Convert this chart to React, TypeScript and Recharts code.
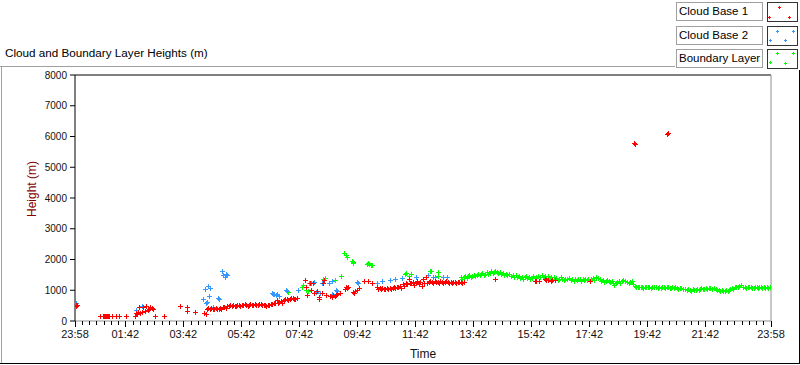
import React from "react";
import { ScatterChart, Scatter, XAxis, YAxis, ReferenceLine } from "recharts";

const FONT = '"Liberation Sans", Arial, sans-serif';

const RED = "#ff0000";
const BLUE = "#3399ff";
const GREEN = "#00ff00";

// [hours after 23:58, height in m]
const cloudBase1: [number, number][] = [
  [0.02, 500], [0.04, 530], [0.06, 510],
  [0.86, 150], [0.95, 150], [1.0, 150], [1.03, 150], [1.07, 150], [1.1, 150], [1.14, 150], [1.18, 150], [1.27, 150],
  [1.43, 150], [1.5, 150], [1.75, 150],
  [2.07, 150], [2.1, 270], [2.13, 220], [2.17, 300], [2.2, 440], [2.25, 250], [2.3, 280], [2.35, 460], [2.4, 330], [2.45, 480],
  [2.5, 350], [2.55, 380], [2.6, 470], [2.65, 420], [2.68, 380], [2.75, 150],
  [3.08, 150], [3.62, 480], [3.85, 445], [3.87, 320], [4.14, 290], [4.45, 250], [4.5, 220],
  [4.55, 390], [4.6, 410], [4.65, 380], [4.7, 420], [4.75, 400], [4.8, 390], [4.85, 430], [4.9, 400], [4.95, 380], [5.0, 420],
  [5.05, 400], [5.1, 440], [5.15, 460], [5.2, 430], [5.25, 480], [5.3, 500], [5.35, 520], [5.4, 490], [5.45, 510], [5.5, 480],
  [5.55, 500], [5.6, 510], [5.65, 520], [5.7, 500], [5.75, 530], [5.8, 510], [5.85, 540], [5.9, 520], [5.95, 500], [6.0, 530],
  [6.05, 540], [6.1, 510], [6.15, 520], [6.2, 540], [6.25, 510], [6.3, 520], [6.35, 540], [6.4, 550], [6.45, 530], [6.5, 520],
  [6.55, 510], [6.6, 500], [6.65, 530], [6.7, 520], [6.75, 560], [6.8, 550], [6.85, 570], [6.9, 600], [6.95, 680], [7.0, 580],
  [7.05, 620], [7.1, 650], [7.15, 600], [7.2, 680], [7.25, 720], [7.3, 700], [7.35, 690], [7.4, 720], [7.45, 750],
  [7.5, 740], [7.55, 710], [7.6, 720], [7.65, 760],
  [7.93, 1330], [7.97, 1100], [8.01, 835], [8.1, 1225], [8.15, 1000], [8.2, 1250], [8.25, 900], [8.33, 990], [8.4, 770],
  [8.43, 730], [8.5, 900], [8.55, 1230], [8.6, 1320], [8.65, 850], [8.79, 810], [8.85, 780], [8.9, 830], [8.95, 800],
  [9.0, 860], [9.05, 880], [9.15, 900], [9.3, 1030], [9.33, 1100], [9.37, 1060], [9.42, 1100], [9.6, 950], [9.63, 900],
  [9.66, 965], [9.72, 1020], [9.78, 1080], [9.95, 1290], [10.12, 1290], [10.25, 1230],
  [10.4, 1100], [10.45, 1050], [10.5, 1070], [10.55, 1040], [10.6, 1060], [10.65, 1030], [10.7, 1050], [10.75, 1060],
  [10.8, 1040], [10.85, 1080], [10.9, 1050], [10.95, 1070], [11.0, 1100], [11.05, 1080], [11.1, 1110], [11.15, 1090],
  [11.2, 1130], [11.25, 1060],
  [11.3, 1200], [11.35, 1150], [11.4, 1240], [11.45, 1210], [11.5, 1380], [11.55, 1250], [11.6, 1220], [11.65, 1270],
  [11.7, 1170], [11.75, 1250], [11.8, 1300], [11.85, 1200], [11.9, 1260], [11.95, 1130], [12.0, 1360], [12.05, 1230],
  [12.1, 1440], [12.15, 1250],
  [12.2, 1270], [12.25, 1300], [12.3, 1270], [12.35, 1250], [12.4, 1290], [12.45, 1280], [12.5, 1260], [12.55, 1240],
  [12.6, 1300], [12.65, 1270], [12.7, 1250], [12.75, 1280], [12.8, 1290], [12.85, 1260], [12.9, 1240], [12.95, 1270],
  [13.0, 1250], [13.05, 1280], [13.1, 1260], [13.15, 1250], [13.2, 1270], [13.25, 1280], [13.3, 1260], [13.35, 1250],
  [13.4, 1280],
  [14.48, 1350], [15.86, 1310], [15.9, 1300], [16.0, 1290], [16.2, 1350], [16.25, 1330], [16.3, 1330], [16.4, 1310],
  [16.45, 1320], [16.55, 1340], [17.76, 1290],
  [19.28, 5780], [19.3, 5770], [20.42, 6080], [20.45, 6130],
];

const cloudBase2: [number, number][] = [
  [0.03, 600], [2.1, 360], [2.3, 500], [2.33, 470],
  [4.42, 700], [4.48, 1040], [4.52, 600], [4.55, 620], [4.6, 1150], [4.63, 800], [4.67, 1070], [4.75, 440], [4.94, 760],
  [4.97, 710], [5.06, 1640], [5.12, 1500], [5.17, 1440], [5.22, 1530], [5.25, 1510],
  [6.78, 900], [6.82, 880], [6.87, 890], [6.92, 850], [6.95, 880], [7.02, 810], [7.28, 1010], [7.3, 980], [7.7, 1000],
  [8.13, 1225], [8.25, 1260], [8.3, 950], [8.45, 900], [8.53, 1225], [8.76, 1225], [8.87, 1310], [8.87, 890],
  [9.0, 1000], [9.05, 970], [9.71, 1260], [9.75, 1230], [10.4, 1225], [10.57, 1290], [10.86, 1330], [11.03, 1380],
  [11.26, 1410], [11.77, 1420], [12.18, 1480], [12.36, 1420], [12.4, 1440], [12.7, 1440], [12.82, 1440], [13.22, 1280],
];

const boundaryLayer: [number, number][] = [
  [7.36, 930], [7.82, 1120], [7.87, 1160], [7.98, 1020], [8.03, 990], [8.08, 1240], [8.56, 1360], [8.61, 1400],
  [8.98, 1320], [9.16, 1460],
  [9.29, 2200], [9.33, 2150], [9.37, 2090], [9.54, 1960], [9.57, 1930], [9.6, 1900], [10.06, 1840], [10.1, 1870],
  [10.15, 1850], [10.2, 1830], [10.25, 1810],
  [11.38, 1520], [11.42, 1560], [11.5, 1470], [11.57, 1540], [12.24, 1640], [12.27, 1610], [12.5, 1600], [12.53, 1470],
  [13.3, 1430], [13.35, 1380], [13.4, 1420], [13.45, 1460], [13.5, 1400], [13.55, 1450], [13.6, 1490], [13.65, 1430],
  [13.7, 1470], [13.75, 1510], [13.8, 1460], [13.85, 1500], [13.9, 1540], [13.95, 1480], [14.0, 1520],
  [14.05, 1560], [14.1, 1500], [14.15, 1540], [14.2, 1590], [14.25, 1530], [14.3, 1570], [14.35, 1610], [14.4, 1550],
  [14.45, 1600], [14.5, 1640], [14.55, 1580], [14.6, 1560], [14.65, 1600], [14.7, 1530], [14.75, 1560], [14.8, 1500],
  [14.85, 1540], [14.9, 1480], [14.95, 1520],
  [15.05, 1470], [15.1, 1500], [15.15, 1440], [15.2, 1480], [15.25, 1420], [15.3, 1460], [15.35, 1400], [15.4, 1440],
  [15.45, 1380], [15.5, 1420], [15.55, 1460], [15.6, 1400], [15.65, 1440], [15.7, 1370], [15.75, 1410], [15.8, 1450],
  [15.85, 1390], [15.9, 1430], [15.95, 1470],
  [16.05, 1420], [16.1, 1500], [16.15, 1440], [16.2, 1470], [16.25, 1410], [16.3, 1450], [16.35, 1390], [16.4, 1430],
  [16.45, 1380], [16.5, 1420], [16.55, 1360], [16.6, 1400], [16.65, 1340], [16.7, 1380], [16.75, 1420], [16.8, 1360],
  [16.85, 1330], [16.9, 1370], [16.95, 1350],
  [17.05, 1390], [17.1, 1340], [17.15, 1370], [17.2, 1310], [17.25, 1360], [17.3, 1330], [17.35, 1380], [17.4, 1350],
  [17.45, 1310], [17.5, 1370], [17.55, 1340], [17.6, 1380], [17.65, 1320], [17.7, 1360], [17.75, 1300], [17.8, 1350],
  [17.85, 1390], [17.9, 1330], [17.95, 1440],
  [18.05, 1400], [18.1, 1350], [18.15, 1300], [18.2, 1330], [18.25, 1280], [18.3, 1310], [18.35, 1340], [18.4, 1290],
  [18.45, 1260], [18.5, 1300], [18.55, 1240], [18.6, 1180], [18.65, 1220], [18.7, 1270], [18.75, 1300], [18.8, 1250],
  [18.85, 1290], [18.9, 1330], [18.95, 1310],
  [19.05, 1280], [19.1, 1240], [19.15, 1270], [19.2, 1300], [19.25, 1200], [19.3, 1150], [19.35, 1120], [19.4, 1100],
  [19.45, 1120], [19.5, 1090], [19.55, 1110], [19.6, 1080], [19.65, 1100], [19.7, 1120], [19.75, 1090], [19.8, 1110],
  [19.85, 1080], [19.9, 1100], [19.95, 1090],
  [20.05, 1110], [20.1, 1080], [20.15, 1100], [20.2, 1070], [20.25, 1100], [20.3, 1090], [20.35, 1060], [20.4, 1090],
  [20.45, 1110], [20.5, 1080], [20.55, 1070], [20.6, 1100], [20.65, 1060], [20.7, 1090], [20.75, 1070], [20.8, 1050],
  [20.85, 1080], [20.9, 1060], [20.95, 1040],
  [21.05, 1030], [21.1, 1000], [21.15, 1040], [21.2, 1010], [21.25, 990], [21.3, 1030], [21.35, 1000], [21.4, 1020],
  [21.45, 1050], [21.5, 1010], [21.55, 1040], [21.6, 1060], [21.65, 1030], [21.7, 1050], [21.75, 1070], [21.8, 1040],
  [21.85, 1060], [21.9, 1080], [21.95, 1050],
  [22.05, 1070], [22.1, 1040], [22.15, 1010], [22.2, 1000], [22.25, 980], [22.3, 1000], [22.35, 970], [22.4, 990],
  [22.45, 1010], [22.5, 980], [22.55, 1000], [22.6, 1030], [22.65, 1060], [22.7, 1040], [22.75, 1090], [22.8, 1120],
  [22.85, 1100], [22.9, 1140], [22.95, 1160],
  [23.05, 1120], [23.1, 1100], [23.15, 1080], [23.2, 1110], [23.25, 1090], [23.3, 1100], [23.35, 1080], [23.4, 1070],
  [23.45, 1100], [23.5, 1090], [23.55, 1080], [23.6, 1110], [23.65, 1090], [23.7, 1070], [23.75, 1100], [23.8, 1080],
  [23.85, 1090], [23.9, 1070], [23.95, 1090], [24.0, 1080],
];

const timeTickHours = [0, 1.7333, 3.7333, 5.7333, 7.7333, 9.7333, 11.7333, 13.7333, 15.7333, 17.7333, 19.7333, 21.7333, 24];
const timeTickLabels = ["23:58", "01:42", "03:42", "05:42", "07:42", "09:42", "11:42", "13:42", "15:42", "17:42", "19:42", "21:42", "23:58"];
const heightTicks = [0, 1000, 2000, 3000, 4000, 5000, 6000, 7000, 8000];

// minor ticks every 15 min, lined up with the labelled ticks
const allTimeTicks: number[] = [...timeTickHours];
for (let h = 0.2333; h < 24; h += 0.25) {
  if (!timeTickHours.some((m) => Math.abs(m - h) < 0.05)) allTimeTicks.push(+h.toFixed(4));
}
allTimeTicks.sort((a, b) => a - b);

const toPoints = (arr: [number, number][]) => arr.map(([t, h]) => ({ t, h }));

function plusShape(color: string) {
  return (props: any) => {
    const x = Math.round(props.cx);
    const y = Math.round(props.cy);
    return <path d={`M${x - 2} ${y + 0.5}h5M${x + 0.5} ${y - 2}v5`} stroke={color} strokeWidth={1} fill="none" />;
  };
}

function TimeTick(props: any) {
  const { x, y, payload } = props;
  const idx = timeTickHours.findIndex((h) => Math.abs(h - payload.value) < 1e-3);
  const major = idx >= 0;
  const px = Math.round(x) + 0.5;
  return (
    <g>
      <line x1={px} x2={px} y1={y} y2={y + (major ? 6 : 4)} stroke="#000" />
      {major && (
        <text x={x} y={y + 17} textAnchor="middle" fontSize={11} fill="#111" fontFamily={FONT}>
          {timeTickLabels[idx]}
        </text>
      )}
    </g>
  );
}

function LegendRow({ top, label, color, marks }: { top: number; label: string; color: string; marks: number[][] }) {
  return (
    <>
      <div
        style={{
          position: "absolute", left: 676, top, width: 87, height: 19, boxSizing: "border-box",
          border: "1px solid #a0a0a0", fontFamily: FONT, fontSize: 11.5, lineHeight: "17px", paddingLeft: 2,
          color: "#000", whiteSpace: "nowrap",
        }}
      >
        {label}
      </div>
      <svg style={{ position: "absolute", left: 767, top }} width={31} height={20}>
        <rect x={0.5} y={0.5} width={30} height={19} fill="#fff" stroke="#333" />
        {marks.map(([mx, my], i) => (
          <path key={i} d={`M${mx - 1} ${my + 0.5}h3M${mx + 0.5} ${my - 1}v3`} stroke={color} fill="none" />
        ))}
      </svg>
    </>
  );
}

export default function App() {
  return (
    <div style={{ position: "absolute", left: 0, top: 0, width: 800, height: 365, background: "#fff" }}>
      <div style={{ position: "absolute", left: 0, top: 66, width: 675, height: 1, background: "#a0a0a0" }} />
      <div style={{ position: "absolute", left: 1, top: 66, width: 1, height: 298, background: "#a0a0a0" }} />
      <div style={{ position: "absolute", left: 0, top: 363, width: 800, height: 1, background: "#000" }} />
      <div style={{ position: "absolute", left: 799, top: 70, width: 1, height: 294, background: "#000" }} />

      <div style={{ position: "absolute", left: 5, top: 46, fontFamily: FONT, fontSize: 11.7, color: "#000", whiteSpace: "nowrap" }}>
        Cloud and Boundary Layer Heights (m)
      </div>

      <LegendRow top={2} label="Cloud Base 1" color={RED} marks={[[12, 5], [2, 15], [22, 15]]} />
      <LegendRow top={26} label="Cloud Base 2" color={BLUE} marks={[[10, 5], [26, 5], [3, 14], [18, 14]]} />
      <LegendRow top={49} label="Boundary Layer" color={GREEN} marks={[[10, 4], [26, 4], [3, 13], [18, 14]]} />

      <div style={{ position: "absolute", left: 0, top: 0 }}>
        <ScatterChart width={800} height={365} margin={{ top: 75, right: 29, bottom: 14, left: 15 }}>
          <XAxis
            dataKey="t"
            type="number"
            domain={[0, 24]}
            ticks={allTimeTicks}
            interval={0}
            height={30}
            tickSize={0}
            tickMargin={0}
            tickLine={false}
            tick={<TimeTick />}
            axisLine={{ stroke: "#909090" }}
            allowDataOverflow
          />
          <YAxis
            dataKey="h"
            type="number"
            domain={[0, 8000]}
            ticks={heightTicks}
            interval={0}
            width={60}
            tickSize={5}
            tickMargin={3}
            axisLine={{ stroke: "#000" }}
            tickLine={{ stroke: "#000" }}
            tick={{ fontSize: 10, fill: "#111", fontFamily: FONT }}
            allowDataOverflow
          />
          <ReferenceLine y={8000} stroke="#000" />
          <ReferenceLine x={24} stroke="#909090" />
          <Scatter data={toPoints(boundaryLayer)} fill={GREEN} shape={plusShape(GREEN)} isAnimationActive={false} />
          <Scatter data={toPoints(cloudBase2)} fill={BLUE} shape={plusShape(BLUE)} isAnimationActive={false} />
          <Scatter data={toPoints(cloudBase1)} fill={RED} shape={plusShape(RED)} isAnimationActive={false} />
        </ScatterChart>
      </div>

      <div
        style={{
          position: "absolute", left: 32, top: 189, transform: "translate(-50%, -50%) rotate(-90deg)",
          fontFamily: FONT, fontSize: 12, color: "#800000", whiteSpace: "nowrap",
        }}
      >
        Height (m)
      </div>
      <div
        style={{
          position: "absolute", left: 423, top: 354, transform: "translate(-50%, -50%)",
          fontFamily: FONT, fontSize: 12, color: "#111", whiteSpace: "nowrap",
        }}
      >
        Time
      </div>
    </div>
  );
}
